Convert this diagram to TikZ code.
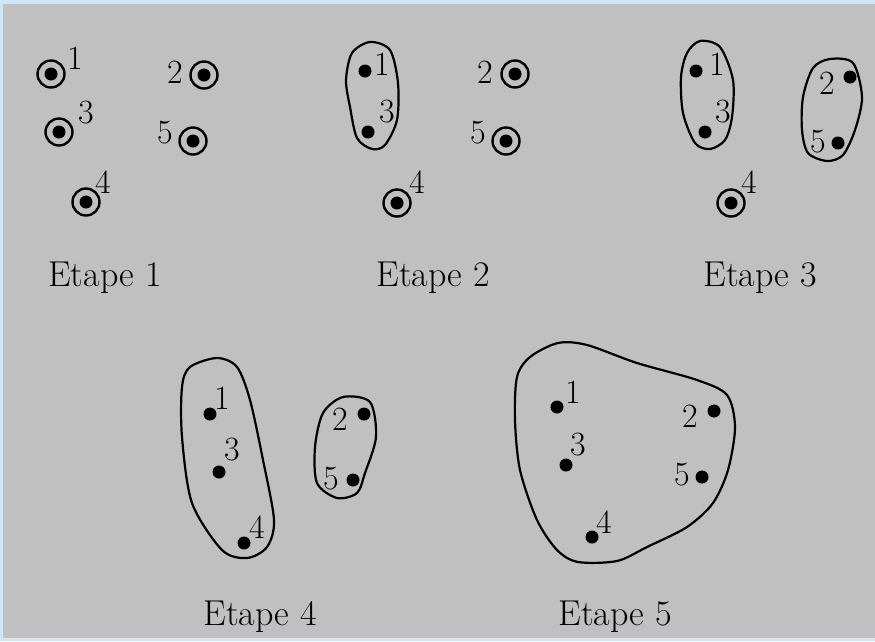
\documentclass[tikz,border=0pt]{standalone}
\usepackage{tikz}
\definecolor{fond}{HTML}{C0C0C0}
\definecolor{bord}{HTML}{CFE7F4}
\tikzset{
  pnt/.style={circle, fill=black, inner sep=0pt, minimum size=13pt},
  anneau/.style={circle, draw, line width=2.4pt, inner sep=0pt, minimum size=27pt},
  num/.style={inner sep=0pt, font=\fontsize{34}{34}\selectfont},
  etape/.style={inner sep=0pt, anchor=base, font=\fontsize{36}{36}\selectfont},
  groupe/.style={line width=2.2pt},
}

\begin{document}
\begin{tikzpicture}[x=1pt, y=-1pt]
    \fill[bord] (0,0) rectangle (875,641);
    \fill[fond] (3,4) rectangle (875,638);
    \useasboundingbox (0,0) rectangle (875,641);
    % Etape 1
    \node[pnt] (a1) at (51,74) {};
    \node[pnt] (a2) at (204,75) {};
    \node[pnt] (a3) at (59,132) {};
    \node[pnt] (a4) at (86,202) {};
    \node[pnt] (a5) at (193,141) {};
    \node[anneau] (a1c) at (a1) {};
    \node[anneau] (a2c) at (a2) {};
    \node[anneau] (a3c) at (a3) {};
    \node[anneau] (a4c) at (a4) {};
    \node[anneau] (a5c) at (a5) {};
    \node[num] (a1n) at (75,58) {1};
    \node[num] (a2n) at (175,72) {2};
    \node[num] (a3n) at (86,113) {3};
    \node[num] (a4n) at (103,182) {4};
    \node[num] (a5n) at (165,133) {5};
    \node[etape] (e1) at (105,286) {Etape 1};
    % Etape 2
    \node[pnt] (b1) at (365,71) {};
    \node[pnt] (b2) at (515,74) {};
    \node[pnt] (b3) at (368,132) {};
    \node[pnt] (b4) at (397,203) {};
    \node[pnt] (b5) at (506,141) {};
    \node[anneau] (b2c) at (b2) {};
    \node[anneau] (b4c) at (b4) {};
    \node[anneau] (b5c) at (b5) {};
    \node[num] (b1n) at (382,64) {1};
    \node[num] (b2n) at (485,72) {2};
    \node[num] (b3n) at (387,112) {3};
    \node[num] (b4n) at (417,182) {4};
    \node[num] (b5n) at (478,133) {5};
    \draw[groupe] plot[smooth cycle] coordinates {(370,42) (390,50) (398,83) (397,120)
      (385,145) (372,149) (357,138) (350,107) (346,80) (352,53)};
    \node[etape] (e2) at (433,286) {Etape 2};
    % Etape 3
    \node[pnt] (c1) at (696,71) {};
    \node[pnt] (c2) at (850,77) {};
    \node[pnt] (c3) at (705,132) {};
    \node[pnt] (c4) at (731,203) {};
    \node[pnt] (c5) at (838,143) {};
    \node[anneau] (c4c) at (c4) {};
    \node[num] (c1n) at (717,64) {1};
    \node[num] (c2n) at (827,83) {2};
    \node[num] (c3n) at (723,112) {3};
    \node[num] (c4n) at (749,182) {4};
    \node[num] (c5n) at (818,142) {5};
    \draw[groupe] plot[smooth cycle] coordinates {(700,41) (720,47) (733,80) (732,117)
      (725,140) (710,149) (695,143) (683,113) (681,77) (687,53)};
    \draw[groupe] plot[smooth cycle] coordinates {(830,59) (853,63) (862,97) (855,130)
      (843,155) (827,161) (808,153) (802,130) (803,97) (813,68)};
    \node[etape] (e3) at (760,286) {Etape 3};
    % Etape 4
    \node[pnt] (d1) at (210,414) {};
    \node[pnt] (d2) at (364,414) {};
    \node[pnt] (d3) at (219,472) {};
    \node[pnt] (d4) at (244,543) {};
    \node[pnt] (d5) at (353,480) {};
    \node[num] (d1n) at (222,398) {1};
    \node[num] (d2n) at (340,419) {2};
    \node[num] (d3n) at (232,450) {3};
    \node[num] (d4n) at (257,527) {4};
    \node[num] (d5n) at (331,479) {5};
    \draw[groupe] plot[smooth cycle] coordinates {(217,358) (190,367) (182,387) (182,437)
      (192,503) (222,550) (247,558) (267,547) (274,520) (263,460) (250,400) (237,367)};
    \draw[groupe] plot[smooth cycle] coordinates {(343,397) (370,402) (376,437) (365,473)
      (357,493) (337,498) (317,483) (315,447) (323,413)};
    \node[etape] (e4) at (260,625) {Etape 4};
    % Etape 5
    \node[pnt] (f1) at (557,407) {};
    \node[pnt] (f2) at (714,411) {};
    \node[pnt] (f3) at (566,465) {};
    \node[pnt] (f4) at (592,537) {};
    \node[pnt] (f5) at (702,477) {};
    \node[num] (f1n) at (573,392) {1};
    \node[num] (f2n) at (690,416) {2};
    \node[num] (f3n) at (578,445) {3};
    \node[num] (f4n) at (604,522) {4};
    \node[num] (f5n) at (682,475) {5};
    \draw[groupe] plot[smooth cycle] coordinates {(558,343) (587,345) (637,363) (697,380)
      (727,395) (735,427) (728,470) (713,503) (687,527) (647,547) (617,561) (578,562)
      (557,550) (537,520) (520,470) (515,420) (517,377) (530,357)};
    \node[etape] (e5) at (615,625) {Etape 5};
\end{tikzpicture}
\end{document}
